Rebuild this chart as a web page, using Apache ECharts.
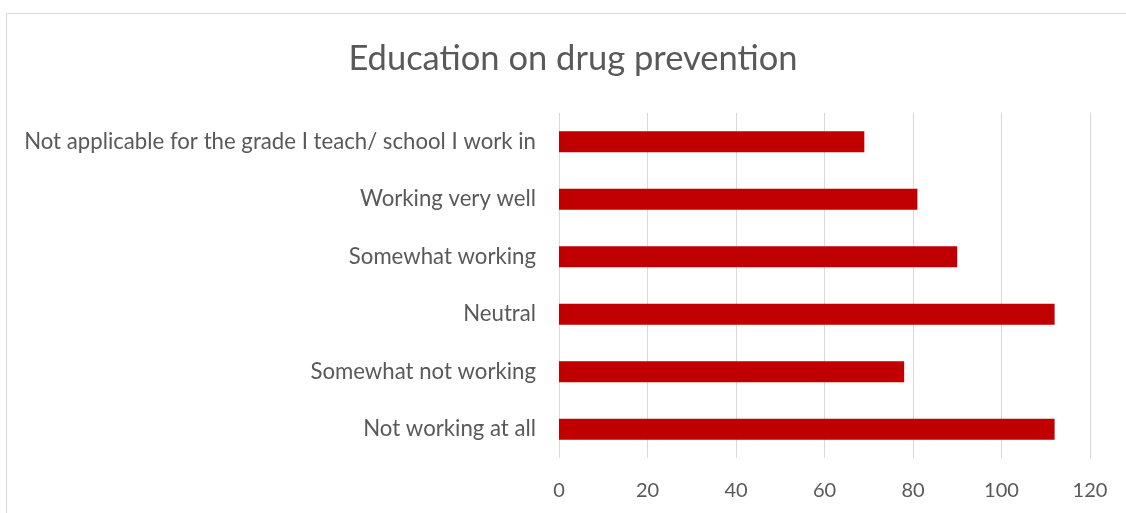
<!DOCTYPE html>
<html>
<head>
<meta charset="utf-8">
<script src="https://cdn.jsdelivr.net/npm/echarts@6/dist/echarts.min.js"></script>
<style>
  html, body { margin: 0; padding: 0; background: #fff; }
  #chart { width: 1126px; height: 513px; }
</style>
</head>
<body>
<div id="chart"></div>
<script>
// Survey responses: opinion of drug prevention education
const categories = [
  'Not applicable for the grade I teach/ school I work in',
  'Working very well',
  'Somewhat working',
  'Neutral',
  'Somewhat not working',
  'Not working at all'
];
const counts = [69, 81, 90, 112, 78, 112];
const tickValues = [0, 20, 40, 60, 80, 100, 120];

const FONT = 'Lato';
const TEXT = '#595959';

const chart = echarts.init(document.getElementById('chart'), null, { renderer: 'canvas' });
chart.setOption({
  animation: false,
  backgroundColor: '#ffffff',
  title: {
    text: 'Education on drug prevention',
    left: 568,
    textAlign: 'center',
    top: 36,
    textStyle: { fontFamily: FONT, fontSize: 34.5, fontWeight: 'normal', color: TEXT }
  },
  graphic: [{
    type: 'rect',
    shape: { x: 6.5, y: 13.5, width: 1200, height: 600 },
    style: { fill: 'none', stroke: '#d9d9d9', lineWidth: 1 },
    silent: true
  }],
  grid: { left: 559, right: 36, top: 113, bottom: 55, containLabel: false },
  xAxis: {
    type: 'value',
    min: tickValues[0],
    max: tickValues[tickValues.length - 1],
    interval: tickValues[1] - tickValues[0],
    axisLine: { show: false },
    axisTick: { show: false },
    splitLine: { show: true, lineStyle: { color: '#d9d9d9', width: 1 } },
    axisLabel: { fontFamily: FONT, fontSize: 20, color: TEXT, margin: 23 }
  },
  yAxis: {
    type: 'category',
    data: categories,
    inverse: true,
    axisLine: { show: false },
    axisTick: { show: false },
    axisLabel: { fontFamily: FONT, fontSize: 22.2, color: TEXT, margin: 23 }
  },
  series: [{
    type: 'bar',
    data: counts,
    barWidth: 21,
    itemStyle: { color: '#C00000' }
  }]
});
</script>
</body>
</html>
